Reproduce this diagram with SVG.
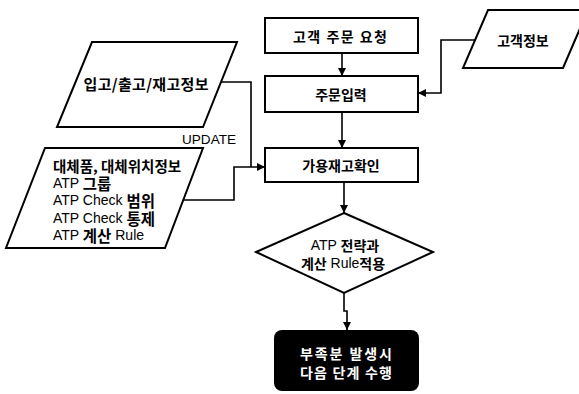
<svg xmlns="http://www.w3.org/2000/svg" width="579" height="394" viewBox="0 0 579 394">
<defs>
<style>
.s{fill:#fff;stroke:#000;stroke-width:2}
.c{fill:none;stroke:#000;stroke-width:1.6}
text{font-family:"Liberation Sans","Noto Sans CJK KR",sans-serif;font-size:14px;fill:#000;dominant-baseline:central}
.k{font-family:"Noto Sans CJK KR","Liberation Sans",sans-serif;font-weight:bold}
.h{font-size:15.5px}
.m{text-anchor:middle}
.w{fill:#fff}
</style>
<marker id="ah" viewBox="0 0 10 10" refX="10" refY="5" markerWidth="8" markerHeight="8" markerUnits="userSpaceOnUse" orient="auto">
<path d="M0,0L10,5L0,10z" fill="#000"/>
</marker>
</defs>
<rect width="579" height="394" fill="#fff"/>
<g id="connectors">
<path class="c" d="M342,53V76" marker-end="url(#ah)"/>
<path class="c" d="M342,112V148" marker-end="url(#ah)"/>
<path class="c" d="M344,182V213" marker-end="url(#ah)"/>
<path class="c" d="M344,293V311H347V330" marker-end="url(#ah)"/>
<path class="c" d="M475,40H441V93H418" marker-end="url(#ah)"/>
<path class="c" d="M221,82H251V167"/>
<path class="c" d="M183,200H234V167H265" marker-end="url(#ah)"/>
</g>
<g id="n_order_request">
<rect class="s" x="265" y="18" width="153" height="35"/>
<text class="k m" x="340" y="36" textLength="94" lengthAdjust="spacing">고객 주문 요청</text>
</g>
<g id="n_order_input">
<rect class="s" x="265" y="76" width="153" height="36"/>
<text class="k m" x="341" y="94">주문입력</text>
</g>
<g id="n_stock_check">
<rect class="s" x="265" y="148" width="153" height="34"/>
<text class="k m" x="341" y="165">가용재고확인</text>
</g>
<g id="n_customer_info">
<polygon class="s" points="488,10 588,10 563,68 463,68"/>
<text class="k m" x="523" y="40">고객정보</text>
</g>
<g id="n_inout_info">
<polygon class="s" points="92,42 237,42 203,127 57,127"/>
<text class="k m" x="146" y="83" style="font-size:15px" textLength="125" lengthAdjust="spacing">입고/출고/재고정보</text>
</g>
<g id="n_atp_master">
<polygon class="s" points="45,148 203,148 165,248 6,248"/>
<text x="53" y="165"><tspan class="k" style="font-size:14.5px">대체품, 대체위치정보</tspan><tspan x="53" dy="17.5">ATP </tspan><tspan class="k h">그룹</tspan><tspan x="53" dy="17.5">ATP Check </tspan><tspan class="k h">범위</tspan><tspan x="53" dy="17.5">ATP Check </tspan><tspan class="k h">통제</tspan><tspan x="53" dy="17.5">ATP </tspan><tspan class="k h">계산</tspan><tspan> Rule</tspan></text>
</g>
<g id="update_label">
<text class="m" x="209" y="139" style="font-size:13.5px" textLength="54" lengthAdjust="spacingAndGlyphs">UPDATE</text>
</g>
<g id="n_atp_rule">
<polygon class="s" points="344,213 433,252 344,293 256,252"/>
<text class="m" x="345" y="245">ATP <tspan class="k">전략과</tspan></text>
<text class="m" x="343" y="263"><tspan class="k">계산</tspan> Rule<tspan class="k">적용</tspan></text>
</g>
<g id="n_shortage">
<rect x="274" y="330" width="145" height="61" rx="8" fill="#000"/>
<text class="k m w" x="346" y="353" textLength="92" lengthAdjust="spacing">부족분 발생시</text>
<text class="k m w" x="346" y="372" textLength="92" lengthAdjust="spacing">다음 단계 수행</text>
</g>
</svg>
